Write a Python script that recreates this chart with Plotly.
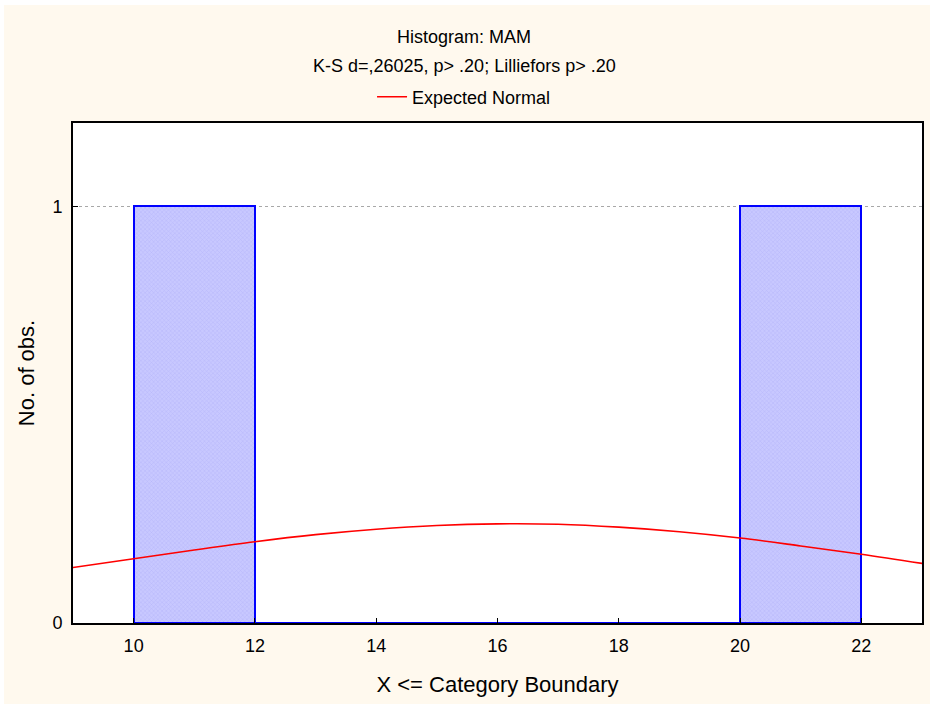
"""Histogram of MAM with expected normal curve (Statistica-style)."""

import plotly.graph_objects as go

# histogram bins (category boundaries 10..22, width 2)
bin_centers = [11, 13, 15, 17, 19, 21]
bin_counts = [1, 0, 0, 0, 0, 1]
bin_width = 2

# expected normal curve
normal_x = [9, 10, 11, 12, 13, 14, 15, 16, 17, 18, 19, 20, 21, 22, 23]
normal_y = [0.133, 0.154, 0.175, 0.195, 0.212, 0.225, 0.234, 0.238,
            0.237, 0.230, 0.219, 0.204, 0.185, 0.165, 0.143]

x_ticks = [10, 12, 14, 16, 18, 20, 22]
y_ticks = [0, 1]

FONT = "Liberation Sans, Arial, sans-serif"
PAPER = "#FFF9EE"

fig = go.Figure()
fig.add_trace(go.Bar(
    x=bin_centers, y=bin_counts, width=[bin_width] * len(bin_centers),
    marker=dict(
        color="#BDBDFD",
        line=dict(color="#0000FF", width=2),
        pattern=dict(shape="x", size=3, solidity=0.3,
                     fgcolor="#A2A2F4", bgcolor="#C8C8FF"),
    ),
    showlegend=False,
))
fig.add_trace(go.Scatter(
    x=normal_x, y=normal_y, mode="lines", name="Expected Normal",
    line=dict(color="#FF0000", width=1.6, shape="spline"),
))

for txt, ypos in [("Histogram: MAM", 1.172),
                  ("K-S d=,26025, p> .20; Lilliefors p> .20", 1.114)]:
    fig.add_annotation(
        text=txt, x=0.4606, y=ypos, xref="paper", yref="paper",
        xanchor="center", yanchor="middle", showarrow=False,
        font=dict(size=18, color="black", family=FONT),
    )

fig.update_layout(
    width=926, height=699,
    margin=dict(l=69, r=6, t=118, b=81),
    paper_bgcolor=PAPER, plot_bgcolor="white",
    font=dict(family=FONT, size=18, color="black"),
    bargap=0,
    legend=dict(orientation="h", x=0.4606, xanchor="center",
                y=1.052, yanchor="middle", bgcolor="rgba(0,0,0,0)",
                font=dict(size=18)),
    xaxis=dict(
        range=[9, 23], tickvals=x_ticks, showgrid=False, zeroline=False,
        showline=True, linecolor="black", linewidth=2, mirror=True,
        ticks="inside", ticklen=5, tickcolor="black", ticklabelstandoff=5,
        title=dict(text="X <= Category Boundary", standoff=22),
    ),
    yaxis=dict(
        range=[0, 1.2], tickvals=y_ticks, showgrid=True,
        gridcolor="#A8A8A8", griddash="dot", gridwidth=1, zeroline=False,
        showline=True, linecolor="black", linewidth=2, mirror=True,
        ticks="inside", ticklen=5, tickcolor="black", ticklabelstandoff=5,
        title=dict(text="No. of obs.", standoff=12),
    ),
)

# white strip on the top and left edges, as in the original export
fig.write_html("out.html", post_script="document.body.style.margin='5px 0 0 4px';")
